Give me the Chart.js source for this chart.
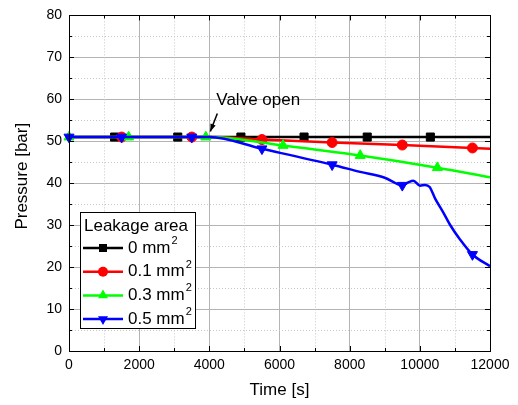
<!DOCTYPE html>
<html>
<head>
<meta charset="utf-8">
<script src="https://cdn.jsdelivr.net/npm/chart.js@4"></script>
<style>
  body { margin: 0; background: #fff; }
  #wrap { width: 518px; height: 405px; }
</style>
</head>
<body>
<div id="wrap"><canvas id="pressureChart" width="518" height="405"></canvas></div>
<script>
// leakage test: pressure after the valve opens at t = 4000 s
const seriesNames = ['0', '0.1', '0.3', '0.5'];
const seriesColors = ['#000000', '#ff0000', '#00ff00', '#0000ff'];

const time0 = [0, 1300, 3100, 4000, 4900, 6700, 8500, 10300, 12000];
const pres0 = [51, 51, 51, 51, 51, 51, 51, 51, 51];
const marks0 = [1300, 3100, 4900, 6700, 8500, 10300];

const time1 = [0, 1500, 3500, 4000, 5500, 7500, 9500, 11500, 12000];
const pres1 = [51, 51, 51, 51, 50.4, 49.7, 49.1, 48.4, 48.2];
const marks1 = [1500, 3500, 5500, 7500, 9500, 11500];

const time3 = [0, 1700, 3900, 4000, 6100, 8300, 10500, 12000];
const pres3 = [51, 51, 51, 51, 49.0, 46.6, 43.7, 41.4];
const marks3 = [0, 1700, 3900, 6100, 8300, 10500];

const time5 = [0, 1500, 3500, 4000, 5500, 7500, 8300, 9000, 9500, 9670, 9814, 10005, 10147, 10280, 10433, 10670, 10860, 11145, 11500, 12000];
const pres5 = [51, 51, 51, 51, 48.2, 44.4, 42.7, 41.3, 39.5, 40.2, 40.6, 39.4, 39.6, 39.1, 36.4, 33.0, 30.1, 26.6, 23.0, 20.2];
const marks5 = [0, 1500, 3500, 5500, 7500, 9500, 11500];

const xTicks = [0, 12000, 2000];
const yTicks = [0, 80, 10];

const valveTime = 4000;

const FONT = '"Liberation Sans", Arial, sans-serif';

const markerStyles = [
  { style: 'rect', radius: 5.7, rotation: 0 },
  { style: 'circle', radius: 5, rotation: 0 },
  { style: 'triangle', radius: 5.8, rotation: 0 },
  { style: 'triangle', radius: 5.8, rotation: 180 }
];

const seriesData = [
  [time0, pres0, marks0],
  [time1, pres1, marks1],
  [time3, pres3, marks3],
  [time5, pres5, marks5]
];

const datasets = seriesData.map(([t, p, marks], i) => ({
  label: seriesNames[i] + ' mm²',
  data: t.map((x, j) => ({ x: x, y: p[j] })),
  borderColor: seriesColors[i],
  backgroundColor: seriesColors[i],
  borderWidth: 2.5,
  cubicInterpolationMode: 'monotone',
  pointStyle: markerStyles[i].style,
  rotation: markerStyles[i].rotation,
  pointRadius: ctx => marks.includes(ctx.raw.x) ? markerStyles[i].radius : 0,
  pointBorderWidth: 1,
  clip: false,
  order: seriesNames.length - i
}));

function drawMarker(ctx, kind, x, y, color) {
  const m = markerStyles[kind];
  ctx.save();
  ctx.fillStyle = color;
  ctx.beginPath();
  if (m.style === 'rect') {
    const s = m.radius * Math.SQRT1_2;
    ctx.rect(x - s, y - s, 2 * s, 2 * s);
  } else if (m.style === 'circle') {
    ctx.arc(x, y, m.radius, 0, Math.PI * 2);
  } else {
    const dir = m.rotation ? -1 : 1;
    const r = m.radius;
    ctx.moveTo(x, y - dir * r);
    ctx.lineTo(x + r * 0.866, y + dir * r * 0.5);
    ctx.lineTo(x - r * 0.866, y + dir * r * 0.5);
    ctx.closePath();
  }
  ctx.fill();
  ctx.restore();
}

const framePlugin = {
  id: 'frame',
  beforeDatasetsDraw(chart) {
    // dotted minor grid halfway between the major ticks
    const { ctx, chartArea: a, scales: { x, y } } = chart;
    ctx.save();
    ctx.strokeStyle = '#c8c8c8';
    ctx.lineWidth = 1;
    ctx.setLineDash([1, 2]);
    for (let v = xTicks[0] + xTicks[2] / 2; v < xTicks[1]; v += xTicks[2]) {
      const px = Math.round(x.getPixelForValue(v)) + 0.5;
      ctx.beginPath(); ctx.moveTo(px, a.top); ctx.lineTo(px, a.bottom); ctx.stroke();
    }
    for (let v = yTicks[0] + yTicks[2] / 2; v < yTicks[1]; v += yTicks[2]) {
      const py = Math.round(y.getPixelForValue(v)) + 0.5;
      ctx.beginPath(); ctx.moveTo(a.left, py); ctx.lineTo(a.right, py); ctx.stroke();
    }
    ctx.restore();
  },
  afterDatasetsDraw(chart) {
    const { ctx, chartArea: a, scales: { x, y } } = chart;
    ctx.save();
    // box and inward ticks on all four sides
    ctx.strokeStyle = '#000';
    ctx.lineWidth = 1;
    ctx.strokeRect(Math.round(a.left) + 0.5, Math.round(a.top) + 0.5,
      Math.round(a.right - a.left), Math.round(a.bottom - a.top));
    for (let v = xTicks[0]; v <= xTicks[1]; v += xTicks[2] / 2) {
      const px = Math.round(x.getPixelForValue(v)) + 0.5;
      const len = (v % xTicks[2] === 0) ? 5 : 3;
      ctx.beginPath();
      ctx.moveTo(px, a.bottom); ctx.lineTo(px, a.bottom - len);
      ctx.moveTo(px, a.top); ctx.lineTo(px, a.top + len);
      ctx.stroke();
    }
    for (let v = yTicks[0]; v <= yTicks[1]; v += yTicks[2] / 2) {
      const py = Math.round(y.getPixelForValue(v)) + 0.5;
      const len = (v % yTicks[2] === 0) ? 5 : 3;
      ctx.beginPath();
      ctx.moveTo(a.left, py); ctx.lineTo(a.left + len, py);
      ctx.moveTo(a.right, py); ctx.lineTo(a.right - len, py);
      ctx.stroke();
    }

    // y axis title, sits a little above the middle of the axis
    ctx.save();
    ctx.translate(22, (a.top + a.bottom) / 2 - 7);
    ctx.rotate(-Math.PI / 2);
    ctx.fillStyle = '#000';
    ctx.font = '17px ' + FONT;
    ctx.textAlign = 'center';
    ctx.textBaseline = 'middle';
    ctx.fillText('Pressure [bar]', 0, 0);
    ctx.restore();

    // "Valve open" arrow
    const tipX = x.getPixelForValue(valveTime) + 1;
    const tipY = y.getPixelForValue(52.3);
    const tailX = tipX + 7, tailY = tipY - 18;
    const ang = Math.atan2(tipY - tailY, tipX - tailX);
    ctx.lineWidth = 1.5;
    ctx.beginPath(); ctx.moveTo(tailX, tailY); ctx.lineTo(tipX, tipY); ctx.stroke();
    ctx.fillStyle = '#000';
    ctx.beginPath();
    ctx.moveTo(tipX, tipY);
    ctx.lineTo(tipX - 8 * Math.cos(ang - 0.35), tipY - 8 * Math.sin(ang - 0.35));
    ctx.lineTo(tipX - 8 * Math.cos(ang + 0.35), tipY - 8 * Math.sin(ang + 0.35));
    ctx.closePath(); ctx.fill();
    ctx.font = '17px ' + FONT;
    ctx.textBaseline = 'middle';
    ctx.fillText('Valve open', tailX - 1, tailY - 13);

    // legend box
    const lx = 80, ly = 212, lw = 115, lh = 116;
    ctx.fillStyle = '#fff';
    ctx.fillRect(lx, ly, lw, lh);
    ctx.lineWidth = 1;
    ctx.strokeRect(lx + 0.5, ly + 0.5, lw, lh);
    ctx.fillStyle = '#000';
    ctx.fillText('Leakage area', lx + 4, ly + 14);
    seriesNames.forEach((name, i) => {
      const ey = ly + 36 + i * 23.7;
      ctx.strokeStyle = seriesColors[i];
      ctx.lineWidth = 2.5;
      ctx.beginPath(); ctx.moveTo(lx + 3, ey); ctx.lineTo(lx + 43, ey); ctx.stroke();
      drawMarker(ctx, i, lx + 23, ey, seriesColors[i]);
      ctx.fillStyle = '#000';
      ctx.font = '17px ' + FONT;
      const txt = name + ' mm';
      ctx.fillText(txt, lx + 48, ey);
      const w = ctx.measureText(txt).width;
      ctx.font = '11px ' + FONT;
      ctx.fillText('2', lx + 49 + w, ey - 7);
    });
    ctx.restore();
  }
};

new Chart(document.getElementById('pressureChart'), {
  type: 'line',
  data: { datasets: datasets },
  options: {
    responsive: false,
    animation: false,
    events: [],
    layout: { padding: { top: 12, right: 28, left: 0, bottom: 0 } },
    plugins: { legend: { display: false }, tooltip: { enabled: false } },
    scales: {
      x: {
        type: 'linear',
        min: xTicks[0],
        max: xTicks[1],
        ticks: {
          stepSize: xTicks[2],
          padding: 6,
          color: '#000',
          font: { family: FONT, size: 14 },
          callback: v => String(v),
          maxRotation: 0
        },
        grid: { color: '#b4b4b4', drawTicks: false },
        border: { display: false },
        title: {
          display: true,
          text: 'Time [s]',
          color: '#000',
          font: { family: FONT, size: 17 },
          padding: { top: 0, bottom: 4 }
        },
        afterFit: s => { s.height = 54; }
      },
      y: {
        min: yTicks[0],
        max: yTicks[1],
        ticks: {
          stepSize: yTicks[2],
          padding: 7,
          color: '#000',
          font: { family: FONT, size: 14 }
        },
        grid: { color: '#b4b4b4', drawTicks: false },
        border: { display: false },
        afterFit: s => { s.width = 69; }
      }
    }
  },
  plugins: [framePlugin]
});
</script>
</body>
</html>
